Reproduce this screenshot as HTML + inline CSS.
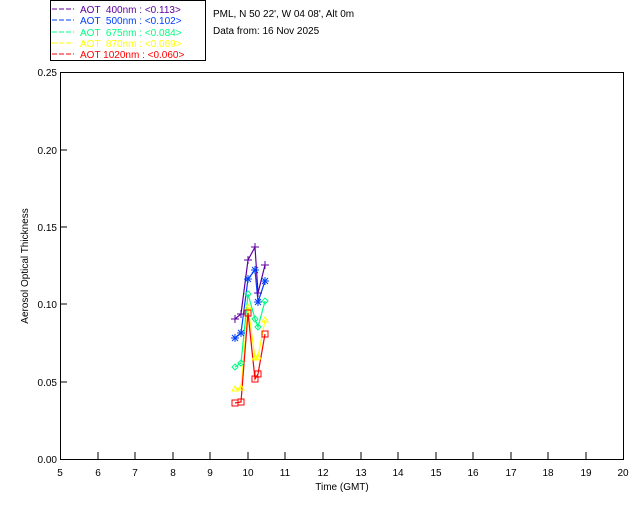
<!DOCTYPE html>
<html><head><meta charset="utf-8"><style>body{margin:0;background:#fff}svg{display:block}text{font-family:"Liberation Sans",sans-serif;font-size:10px}</style></head><body>
<svg width="640" height="512" xmlns="http://www.w3.org/2000/svg">
<rect width="640" height="512" fill="#fff"/>
<rect x="50.5" y="0.5" width="155" height="60" fill="none" stroke="#000" stroke-width="1"/>
<g font-size="10">
<line x1="52" y1="9" x2="74" y2="9" stroke="#6000a0" stroke-dasharray="5,2"/><text x="80" y="13" fill="#6000a0">AOT &#160;400nm : &lt;0.113&gt;</text>
<line x1="52" y1="20" x2="74" y2="20" stroke="#0040ff" stroke-dasharray="5,2"/><text x="80" y="24" fill="#0040ff">AOT &#160;500nm : &lt;0.102&gt;</text>
<line x1="52" y1="32" x2="74" y2="32" stroke="#00ff80" stroke-dasharray="5,2"/><text x="80" y="36" fill="#00ff80">AOT &#160;675nm : &lt;0.084&gt;</text>
<line x1="52" y1="43" x2="74" y2="43" stroke="#ffff00" stroke-dasharray="5,2"/><text x="80" y="47" fill="#ffff00">AOT &#160;870nm : &lt;0.069&gt;</text>
<line x1="52" y1="54" x2="74" y2="54" stroke="#ff0000" stroke-dasharray="5,2"/><text x="80" y="58" fill="#ff0000">AOT 1020nm : &lt;0.060&gt;</text>
</g>
<text x="213" y="17">PML, N 50 22', W 04 08', Alt 0m</text>
<text x="213" y="34">Data from: 16 Nov 2025</text>
<rect x="60.5" y="72.5" width="563" height="387" fill="none" stroke="#000"/>
<g stroke="#000">
<line x1="98" y1="459" x2="98" y2="452"/><line x1="135" y1="459" x2="135" y2="452"/><line x1="173" y1="459" x2="173" y2="452"/><line x1="210" y1="459" x2="210" y2="452"/><line x1="248" y1="459" x2="248" y2="452"/><line x1="285" y1="459" x2="285" y2="452"/><line x1="323" y1="459" x2="323" y2="452"/><line x1="361" y1="459" x2="361" y2="452"/><line x1="398" y1="459" x2="398" y2="452"/><line x1="436" y1="459" x2="436" y2="452"/><line x1="473" y1="459" x2="473" y2="452"/><line x1="511" y1="459" x2="511" y2="452"/><line x1="548" y1="459" x2="548" y2="452"/><line x1="586" y1="459" x2="586" y2="452"/>
<line x1="60" y1="382" x2="67" y2="382"/><line x1="60" y1="304" x2="67" y2="304"/><line x1="60" y1="227" x2="67" y2="227"/><line x1="60" y1="150" x2="67" y2="150"/>
</g>
<g text-anchor="middle">
<text x="60" y="476">5</text><text x="98" y="476">6</text><text x="135" y="476">7</text><text x="173" y="476">8</text><text x="210" y="476">9</text><text x="248" y="476">10</text><text x="285" y="476">11</text><text x="323" y="476">12</text><text x="361" y="476">13</text><text x="398" y="476">14</text><text x="436" y="476">15</text><text x="473" y="476">16</text><text x="511" y="476">17</text><text x="548" y="476">18</text><text x="586" y="476">19</text><text x="623" y="476">20</text>
<text x="342" y="490">Time (GMT)</text>
</g>
<g text-anchor="end">
<text x="57" y="463">0.00</text><text x="57" y="386">0.05</text><text x="57" y="308">0.10</text><text x="57" y="231">0.15</text><text x="57" y="154">0.20</text><text x="57" y="76">0.25</text>
</g>
<text transform="translate(28,266) rotate(-90)" text-anchor="middle">Aerosol Optical Thickness</text>
<g fill="none" stroke-width="1.2">
<polyline stroke="#00ff80" points="235,367 241,363 248,294 255,319 258,327 265,301"/>
<polyline stroke="#ffff00" points="235,389 241,388 248,307 255,358 258,357 265,320"/>
<polyline stroke="#ff0000" points="235,403 241,402 248,313 255,379 258,374 265,334"/>
<polyline stroke="#0040ff" points="235,338 241,333 248,279 255,270 258,302 265,281"/>
<polyline stroke="#6000a0" points="235,319 241,314 248,260 255,247 258,293 265,265"/>
</g>
<g fill="none" stroke-width="1">
<g stroke="#00ff80"><path d="M235,364l3,3l-3,3l-3,-3z M241,360l3,3l-3,3l-3,-3z M248,291l3,3l-3,3l-3,-3z M255,316l3,3l-3,3l-3,-3z M258,324l3,3l-3,3l-3,-3z M265,298l3,3l-3,3l-3,-3z"/></g>
<g stroke="#ffff00"><path d="M232,391l3,-5l3,5z M238,390l3,-5l3,5z M245,309l3,-5l3,5z M252,360l3,-5l3,5z M255,359l3,-5l3,5z M262,322l3,-5l3,5z"/></g>
<g stroke="#ff0000"><rect x="232" y="400" width="6" height="6"/><rect x="238" y="399" width="6" height="6"/><rect x="245" y="310" width="6" height="6"/><rect x="252" y="376" width="6" height="6"/><rect x="255" y="371" width="6" height="6"/><rect x="262" y="331" width="6" height="6"/></g>
<g stroke="#0040ff"><path d="M231,338h8M235,334v8M232,335l6,6M238,335l-6,6 M237,333h8M241,329v8M238,330l6,6M244,330l-6,6 M244,279h8M248,275v8M245,276l6,6M251,276l-6,6 M251,270h8M255,266v8M252,267l6,6M258,267l-6,6 M254,302h8M258,298v8M255,299l6,6M261,299l-6,6 M261,281h8M265,277v8M262,278l6,6M268,278l-6,6"/></g>
<g stroke="#6000a0"><path d="M231,319h8M235,315v8 M237,314h8M241,310v8 M244,260h8M248,256v8 M251,247h8M255,243v8 M254,293h8M258,289v8 M261,265h8M265,261v8"/></g>
</g>
</svg>
</body></html>
